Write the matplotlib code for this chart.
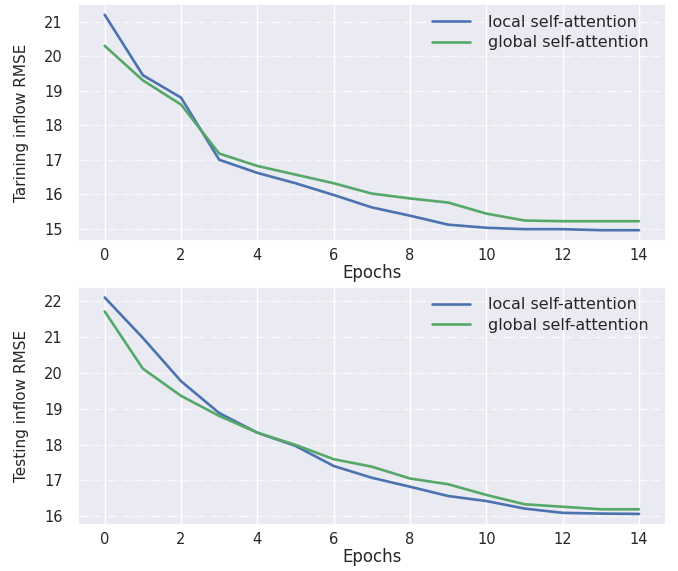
import matplotlib
matplotlib.use("Agg")
import matplotlib.pyplot as plt
import seaborn as sns

sns.set_theme(style="darkgrid")
plt.rcParams['font.family'] = ['DejaVu Sans']

epochs = list(range(15))

# training inflow RMSE
train_local = [21.2, 19.45, 18.8, 17.0, 16.62, 16.32, 15.98, 15.62, 15.38,
               15.12, 15.03, 14.99, 14.99, 14.96, 14.96]
train_global = [20.3, 19.3, 18.6, 17.18, 16.82, 16.57, 16.32, 16.02, 15.88,
                15.76, 15.44, 15.24, 15.22, 15.22, 15.22]

# testing inflow RMSE
test_local = [22.11, 20.98, 19.77, 18.88, 18.33, 17.96, 17.4, 17.07, 16.82,
              16.56, 16.42, 16.21, 16.09, 16.07, 16.06]
test_global = [21.72, 20.12, 19.36, 18.8, 18.33, 17.99, 17.59, 17.38, 17.05,
               16.89, 16.59, 16.33, 16.26, 16.19, 16.19]

blue = "#4C72B0"
green = "#55A868"

fig = plt.figure(figsize=(6.78, 5.71), dpi=100)
ax1 = fig.add_axes([0.115, 0.578, 0.867, 0.415])
ax2 = fig.add_axes([0.115, 0.081, 0.867, 0.417])

for ax, loc, glob, ylab in [(ax1, train_local, train_global, "Tarining inflow RMSE"),
                            (ax2, test_local, test_global, "Testing inflow RMSE")]:
    ax.plot(epochs, loc, color=blue, lw=1.9, label="local self-attention")
    ax.plot(epochs, glob, color=green, lw=1.9, label="global self-attention")
    ax.set_xlabel("Epochs", fontsize=12, labelpad=1)
    ax.set_ylabel(ylab, fontsize=11, labelpad=10.5)
    ax.set_xticks(range(0, 15, 2))
    ax.tick_params(axis="x", labelsize=10.5, pad=5, length=0)
    ax.tick_params(axis="y", labelsize=10.5, pad=11, length=0)
    ax.grid(axis="y", linestyle="-.", color="white", alpha=0.75)
    ax.grid(axis="x", linestyle="-", color="white")
    ax.legend(loc="upper right", fontsize=11.5, frameon=False,
              handlelength=2.4, handletextpad=1.1, labelspacing=0.35,
              bbox_to_anchor=(0.995, 1.015))

fig.savefig("out.png", dpi=100)
